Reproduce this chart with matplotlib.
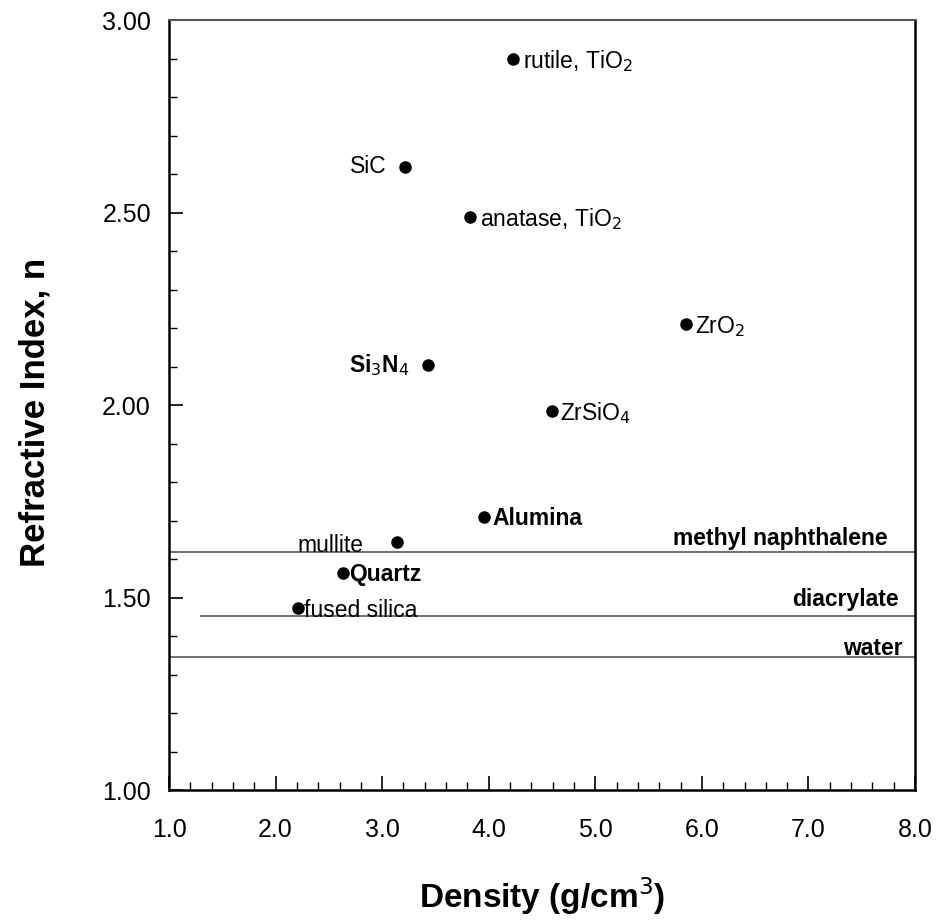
import matplotlib.pyplot as plt
from matplotlib.ticker import MultipleLocator, FormatStrFormatter

plt.rcParams["font.family"] = ["Liberation Sans", "DejaVu Sans"]

# materials: density (g/cm3), refractive index
names = ["rutile, TiO$_2$", "SiC", "anatase, TiO$_2$", "ZrO$_2$", "Si$_3$N$_4$",
         "ZrSiO$_4$", "Alumina", "mullite", "Quartz", "fused silica"]
density = [4.23, 3.21, 3.82, 5.85, 3.43, 4.59, 3.96, 3.14, 2.63, 2.21]
index_n = [2.90, 2.62, 2.49, 2.21, 2.105, 1.985, 1.71, 1.645, 1.565, 1.473]
bold = [False, False, False, False, True, False, True, False, True, False]
# label offsets in pixels (dx, dy), alignment
offsets = [(10, -2), (-18, 0), (10, -2), (9, -2), (-18, 0), (8, -2), (8, -2), (-34, -4), (6, -2), (6, -2)]
aligns = ["left", "right", "left", "left", "right", "left", "left", "right", "left", "left"]

# reference liquids
liquids = ["methyl naphthalene", "diacrylate", "water"]
liquid_n = [1.618, 1.452, 1.347]
liquid_start = [1.0, 1.3, 1.0]
liquid_offsets = [(-27, 14), (-16, 17), (-12, 8)]

fig = plt.figure(figsize=(9.39, 9.23), dpi=100)
ax = fig.add_axes([0.18, 0.144, 0.7945, 0.834])

for name, n0, x0, (dx, dy) in zip(liquids, liquid_n, liquid_start, liquid_offsets):
    ax.plot([x0, 8.0], [n0, n0], color="#707070", linewidth=1.4, zorder=1)
    ax.annotate(name, xy=(8.0, n0), xytext=(dx, dy), textcoords="offset pixels",
                ha="right", va="center", fontsize=16.5, fontweight="bold")

ax.plot(density, index_n, "o", color="black", markersize=8, linestyle="none", zorder=3)
for name, x, y, b, (dx, dy), ha in zip(names, density, index_n, bold, offsets, aligns):
    ax.annotate(name, xy=(x, y), xytext=(dx, dy), textcoords="offset pixels",
                ha=ha, va="center", fontsize=16.5,
                fontweight="bold" if b else "normal")

ax.set_xlim(1.0, 8.0)
ax.set_ylim(1.0, 3.0)
ax.xaxis.set_major_locator(MultipleLocator(1.0))
ax.xaxis.set_minor_locator(MultipleLocator(0.2))
ax.yaxis.set_major_locator(MultipleLocator(0.5))
ax.yaxis.set_minor_locator(MultipleLocator(0.1))
ax.xaxis.set_major_formatter(FormatStrFormatter("%.1f"))
ax.yaxis.set_major_formatter(FormatStrFormatter("%.2f"))
ax.tick_params(which="major", direction="in", length=10, width=1.2, labelsize=18)
ax.tick_params(which="minor", direction="in", length=6, width=1.0)
ax.tick_params(axis="x", which="major", pad=20)
ax.tick_params(axis="y", which="major", pad=13)
for side in ["left", "bottom", "right"]:
    ax.spines[side].set_linewidth(1.8)
ax.spines["top"].set_linewidth(1.5)
ax.spines["top"].set_color("#555555")

ax.set_xlabel("Density (g/cm$^3$)", fontsize=24, fontweight="bold")
ax.set_ylabel("Refractive Index, n", fontsize=25, fontweight="bold")
ax.xaxis.set_label_coords(0.5, -0.11)
ax.yaxis.set_label_coords(-0.157, 0.49)

plt.savefig("out.png", dpi=100)
